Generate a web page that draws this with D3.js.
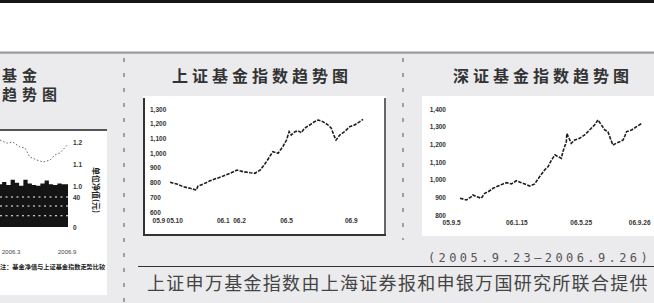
<!DOCTYPE html>
<html><head><meta charset="utf-8">
<script src="https://cdn.jsdelivr.net/npm/d3@7"></script>
<style>
html,body{margin:0;padding:0;background:#fff;}
svg{display:block;}
</style></head><body>
<svg id="c" width="654" height="303"></svg>
<script>
// ---------- data ----------
// 上证基金指数
const shDates = ["2005-09-23","2005-10-06","2005-10-18","2005-10-31","2005-11-12","2005-11-15","2005-11-25","2005-12-08","2005-12-21","2006-01-02","2006-01-15","2006-01-28","2006-02-09","2006-02-22","2006-03-03","2006-03-13","2006-03-19","2006-03-25","2006-03-31","2006-04-06","2006-04-16","2006-04-25","2006-05-02","2006-05-07","2006-05-11","2006-05-18","2006-05-24","2006-05-30","2006-06-05","2006-06-15","2006-06-24","2006-07-01","2006-07-10","2006-07-20","2006-07-26","2006-08-01","2006-08-04","2006-08-11","2006-08-20","2006-08-30","2006-09-08","2006-09-18","2006-09-24"];
const shValues = [802,790,772,761,749,776,790,812,829,844,863,885,874,867,863,885,912,942,976,1010,999,1044,1089,1146,1123,1146,1152,1139,1169,1191,1214,1225,1214,1191,1169,1112,1089,1123,1146,1180,1191,1214,1230];
const shYTicks = [1300,1200,1100,1000,900,800,700,600];
const shXTicks = ["2005-09-01","2005-10-01","2006-01-01","2006-02-01","2006-05-01","2006-09-01"];

// 深证基金指数
const szDates = ["2005-09-23","2005-10-06","2005-10-16","2005-10-19","2005-10-26","2005-11-05","2005-11-12","2005-11-19","2005-11-29","2005-12-09","2005-12-19","2005-12-26","2006-01-05","2006-01-15","2006-01-25","2006-02-01","2006-02-11","2006-02-21","2006-03-03","2006-03-13","2006-03-20","2006-03-27","2006-04-03","2006-04-09","2006-04-16","2006-04-19","2006-04-26","2006-04-27","2006-05-06","2006-05-13","2006-05-23","2006-06-02","2006-06-12","2006-06-22","2006-06-29","2006-07-06","2006-07-13","2006-07-19","2006-07-29","2006-08-05","2006-08-12","2006-08-19","2006-08-26","2006-09-05","2006-09-15","2006-09-26"];
const szValues = [895,885,904,913,904,895,923,932,951,964,976,983,976,994,983,976,964,976,1017,1055,1073,1111,1140,1130,1121,1158,1215,1262,1206,1225,1234,1253,1281,1309,1338,1309,1281,1272,1196,1206,1215,1225,1272,1281,1300,1319];
const szYTicks = [1400,1300,1200,1100,1000,900,800];
const szXTicks = ["2005-09-05","2006-01-15","2006-05-25","2006-09-26"];

// 左侧 (部分可见) 图
const navIndex = [0,1,2,3,4,5,6,7,8,9,10,11,12,13,14,15,16];
const navArea  = [57,60,56,63,59,55,63,58,56,55,58,62,57,56,58,57,57];
const navLineIdx = [0,1.6,3,4.7,5.9,7,8.7,10.1,11.8,12.9,14.1,15.8];
const navLine  = [1.209,1.195,1.2,1.177,1.173,1.132,1.118,1.109,1.118,1.141,1.15,1.186];
const navGrid  = [40,28,15];
const navLineTicks = [1.2,1.1,1.0];
const navAreaTicks = [40,0];
const navXTicks = ["2006.3","2006.9"];

const parse = d3.timeParse("%Y-%m-%d");
const svg = d3.select("#c");
const CJK = "'Noto Sans CJK SC','Noto Sans',sans-serif";

// ---------- background ----------
svg.append("rect").attr("x",0).attr("y",0).attr("width",654).attr("height",303).attr("fill","#ffffff");
svg.append("rect").attr("x",0).attr("y",0).attr("width",654).attr("height",3).attr("fill","#161616");
svg.append("rect").attr("x",0).attr("y",52).attr("width",654).attr("height",251).attr("fill","#ebebed");
svg.append("rect").attr("x",0).attr("y",51.5).attr("width",654).attr("height",2.2).attr("fill","#9a9a9a");

// separators
svg.append("line").attr("x1",124).attr("x2",124).attr("y1",58).attr("y2",303)
  .attr("stroke","#555").attr("stroke-width",1).attr("stroke-dasharray","4,11");
svg.append("line").attr("x1",403).attr("x2",403).attr("y1",58).attr("y2",240)
  .attr("stroke","#555").attr("stroke-width",1).attr("stroke-dasharray","4,11");

// ---------- titles ----------
function title(x,y,t,fs){
  svg.append("text").attr("x",x).attr("y",y).text(t)
    .attr("font-family",CJK).attr("font-size",fs).attr("font-weight","bold")
    .attr("letter-spacing",20-fs).attr("fill","#333");
}
title(2,81,"基金",15);
title(2,100,"趋势图",15);
title(172,82,"上证基金指数趋势图",16);
title(453,82,"深证基金指数趋势图",16);

// ---------- left partial chart ----------
svg.append("rect").attr("x",0).attr("y",130).attr("width",107).attr("height",165).attr("fill","#fff");
svg.append("line").attr("x1",0).attr("x2",107).attr("y1",130).attr("y2",130).attr("stroke","#555").attr("stroke-width",2);
const lx = d3.scaleLinear().domain([0,16]).range([0,68]);
const lyA = d3.scaleLinear().domain([0,40]).range([227,197]);
const lyL = d3.scaleLinear().domain([1.0,1.2]).range([186,142]);
svg.append("path").datum(navIndex)
  .attr("d", d3.area().x(i=>lx(i)).y0(lyA(0)).y1(i=>lyA(navArea[i])).curve(d3.curveStep))
  .attr("fill","#141414");
navGrid.forEach(g=>{
  svg.append("line").attr("x1",0).attr("x2",lx(16)).attr("y1",lyA(g)).attr("y2",lyA(g))
    .attr("stroke","#fff").attr("stroke-width",1.2).attr("stroke-dasharray","2,3.5");
});
svg.append("path").datum(navLineIdx)
  .attr("d", d3.line().x(i=>lx(i)).y((d,k)=>lyL(navLine[k])))
  .attr("fill","none").attr("stroke","#666").attr("stroke-width",1).attr("stroke-dasharray","1.5,2");
const gL1 = svg.append("g").attr("transform","translate(72,0)")
  .call(d3.axisRight(lyL).tickValues(navLineTicks).tickSize(0).tickPadding(1).tickFormat(d3.format(".1f")));
const gL2 = svg.append("g").attr("transform","translate(72,0)")
  .call(d3.axisRight(lyA).tickValues(navAreaTicks).tickSize(0).tickPadding(1));
[gL1,gL2].forEach(g=>{
  g.select(".domain").remove();
  g.selectAll("text").attr("font-family","'Liberation Sans',sans-serif").attr("font-size",6.5).attr("font-weight","bold").attr("fill","#333");
});
svg.append("text").attr("transform","translate(93,167) rotate(90)").text("单位净值(元)")
  .attr("font-family",CJK).attr("font-size",8).attr("font-weight","bold").attr("fill","#222");
svg.selectAll(".navx").data(navXTicks).enter().append("text")
  .attr("x",(d,i)=>[2,58][i]).attr("y",254).text(d=>d)
  .attr("font-family","'Liberation Sans',sans-serif").attr("font-size",6).attr("fill","#444");
svg.append("text").attr("x",0).attr("y",269).text("注：基金净值与上证基金指数走势比较")
  .attr("font-family",CJK).attr("font-size",6.2).attr("font-weight","bold").attr("fill","#222");

// ---------- middle chart ----------
svg.append("rect").attr("x",143).attr("y",96).attr("width",243).attr("height",140).attr("fill","#fff");
svg.append("line").attr("x1",144).attr("x2",144).attr("y1",98).attr("y2",236).attr("stroke","#333").attr("stroke-width",2);
svg.append("line").attr("x1",143).attr("x2",386).attr("y1",235).attr("y2",235).attr("stroke","#333").attr("stroke-width",2);
svg.append("line").attr("x1",385).attr("x2",385).attr("y1",98).attr("y2",236).attr("stroke","#333").attr("stroke-width",1.5);
const mx = d3.scaleTime().domain([parse("2005-09-23"),parse("2006-09-26")]).range([170,364]);
const my = d3.scaleLinear().domain([600,1300]).range([212,109]);
const gMY = svg.append("g").attr("transform","translate(149,0)")
  .call(d3.axisRight(my).tickValues(shYTicks).tickSize(0).tickPadding(1));
const gMX = svg.append("g").attr("transform","translate(0,217)")
  .call(d3.axisBottom(mx).tickValues(shXTicks.map(parse)).tickSize(0).tickPadding(1).tickFormat(d3.timeFormat("%y.%-m")));
[gMY,gMX].forEach(g=>{
  g.select(".domain").remove();
  g.selectAll("text").attr("font-family","'Liberation Sans',sans-serif").attr("font-size",6.5).attr("font-weight","bold").attr("fill","#333");
});
svg.append("path").datum(shDates.map((d,i)=>({d:parse(d),v:shValues[i]})))
  .attr("d", d3.line().x(p=>mx(p.d)).y(p=>my(p.v)))
  .attr("fill","none").attr("stroke","#1e1e1e").attr("stroke-width",1.6).attr("stroke-dasharray","3.5,1.3");

// ---------- right chart ----------
svg.append("rect").attr("x",422).attr("y",96).attr("width",240).attr("height",140).attr("fill","#fff");
const rx = d3.scaleTime().domain([parse("2005-09-23"),parse("2006-09-26")]).range([460,642]);
const ry = d3.scaleLinear().domain([800,1400]).range([215,109]);
const gRY = svg.append("g").attr("transform","translate(447,0)")
  .call(d3.axisLeft(ry).tickValues(szYTicks).tickSize(0).tickPadding(1));
const gRX = svg.append("g").attr("transform","translate(0,219)")
  .call(d3.axisBottom(rx).tickValues(szXTicks.map(parse)).tickSize(0).tickPadding(1).tickFormat(d3.timeFormat("%y.%-m.%-d")));
[gRY,gRX].forEach(g=>{
  g.select(".domain").remove();
  g.selectAll("text").attr("font-family","'Liberation Sans',sans-serif").attr("font-size",6.5).attr("font-weight","bold").attr("fill","#333");
});
gRX.selectAll(".tick:last-of-type text").attr("text-anchor","end").attr("dx",8);
svg.append("path").datum(szDates.map((d,i)=>({d:parse(d),v:szValues[i]})))
  .attr("d", d3.line().x(p=>rx(p.d)).y(p=>ry(p.v)))
  .attr("fill","none").attr("stroke","#1e1e1e").attr("stroke-width",1.6).attr("stroke-dasharray","3.5,1.3");

// ---------- footer ----------
svg.append("text").attr("x",428).attr("y",262).text("(2005.9.23—2006.9.26)")
  .attr("font-family","'DejaVu Sans Mono',monospace").attr("font-size",12)
  .attr("letter-spacing",3.4).attr("fill","#555");
svg.append("line").attr("x1",138).attr("x2",654).attr("y1",266.5).attr("y2",266.5).attr("stroke","#333").attr("stroke-width",1);
svg.append("text").attr("x",147).attr("y",290).text("上证申万基金指数由上海证券报和申银万国研究所联合提供")
  .attr("font-family",CJK).attr("font-size",18).attr("letter-spacing",1.3).attr("fill","#444");
</script>
</body></html>
